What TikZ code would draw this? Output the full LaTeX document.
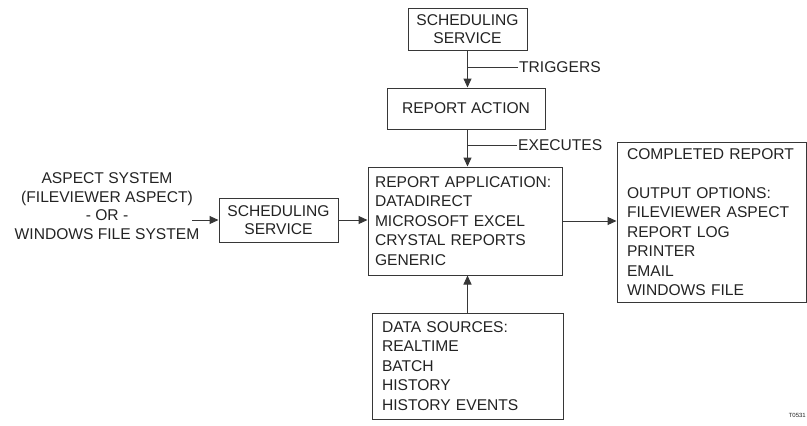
\documentclass[tikz,border=0pt]{standalone}
\usepackage{fontspec}
\setmainfont{Liberation Sans}
\usetikzlibrary{arrows.meta,positioning}
\definecolor{lineg}{RGB}{55,55,55}
\definecolor{textg}{RGB}{35,35,35}

\begin{document}
\begin{tikzpicture}[x=1pt, y=-1pt,
  box/.style={draw=lineg, line width=1pt, rectangle, align=center, text=textg,
    font=\fontsize{15.6}{18.5}\selectfont, inner sep=0pt},
  listbox/.style={draw=lineg, line width=1pt, rectangle, align=left, text=textg,
    font=\fontsize{15.6}{19.5}\selectfont, inner xsep=8pt, inner ysep=0pt},
  lbl/.style={text=textg, font=\fontsize{15.6}{18.7}\selectfont, inner sep=1pt},
  arr/.style={-{Triangle[length=9pt,width=8pt]}, draw=lineg, line width=1pt}
]
\useasboundingbox (0,0) rectangle (807,426);
\node[box, minimum width=119pt, minimum height=42pt] (topss) at (467.5,29) {SCHEDULING\\SERVICE};
\node[box, minimum width=158pt, minimum height=41pt] (ra) at (466,108.5) {REPORT ACTION};
\node[listbox, inner xsep=7pt, text width=180pt, minimum height=108pt] (app) at (465,221) {REPORT APPLICATION:\\DATADIRECT\\MICROSOFT EXCEL\\CRYSTAL REPORTS\\GENERIC};
\node[box, minimum width=119pt, minimum height=44pt] (leftss) at (278.5,220) {SCHEDULING\\SERVICE};
\node[lbl, align=center] (src) at (107,206) {ASPECT SYSTEM\\(FILEVIEWER ASPECT)\\- OR -\\WINDOWS FILE SYSTEM};
\coordinate (srcend) at (192,220);
\node[listbox, inner xsep=10pt, text width=169pt, minimum height=160pt] (done) at (711.5,222) {COMPLETED REPORT\\[19.5pt]OUTPUT OPTIONS:\\FILEVIEWER ASPECT\\REPORT LOG\\PRINTER\\EMAIL\\WINDOWS FILE};
\node[listbox, inner xsep=10pt, text width=171pt, minimum height=106pt] (ds) at (467.5,366) {DATA SOURCES:\\REALTIME\\BATCH\\HISTORY\\HISTORY EVENTS};
\node[lbl, anchor=west] (trig) at (518,67) {TRIGGERS};
\node[lbl, anchor=west] (exec) at (517,145) {EXECUTES};
\node[text=textg, font=\fontsize{6}{7}\selectfont, anchor=east, inner sep=0pt] (fig) at (806,415) {T0531};
\draw[arr] (topss.south) -- (topss.south |- ra.north);
\draw[draw=lineg, line width=1pt] (trig.west) -- (trig.west -| topss.south);
\draw[arr] (ra.south -| topss.south) -- (topss.south |- app.north);
\draw[draw=lineg, line width=1pt] (exec.west) -- (exec.west -| topss.south);
\draw[arr] (srcend) -- (srcend -| leftss.west);
\draw[arr] (leftss.east) -- (leftss.east -| app.west);
\draw[arr] (app.east) -- (app.east -| done.west);
\draw[arr] (ds.north) -- (ds.north |- app.south);
\end{tikzpicture}
\end{document}
